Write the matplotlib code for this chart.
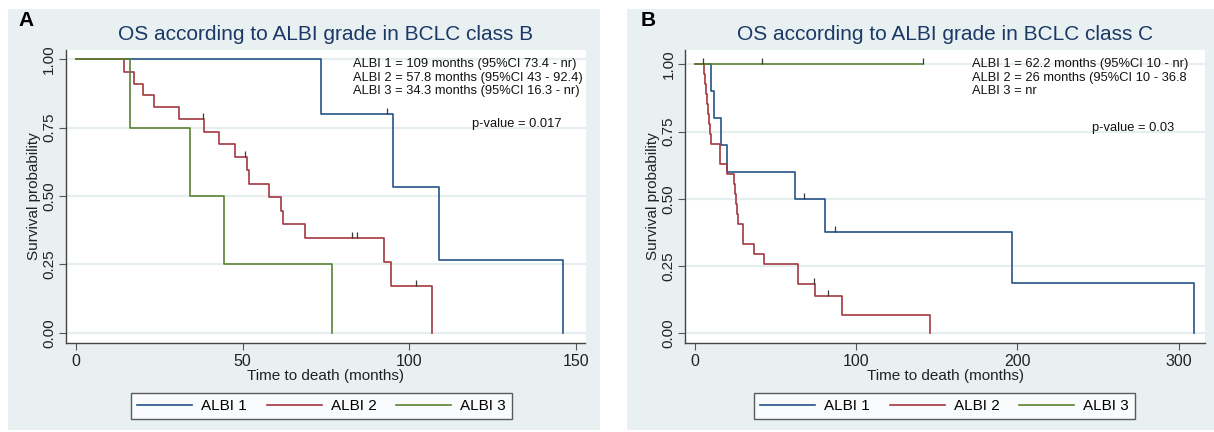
import numpy as np
import matplotlib
matplotlib.use("Agg")
import matplotlib.pyplot as plt
from matplotlib.patches import Rectangle

plt.rcParams['font.family'] = ['Liberation Sans', 'DejaVu Sans']

# ---- panel A : BCLC class B ----
a_t1 = [0, 73.4, 95.2, 109.0, 146.2]
a_s1 = [1, 0.800, 0.533, 0.267, 0]
a_c1 = [93.2]
a_t2 = [0, 14.5, 17.5, 20.3, 23.6, 30.9, 38.4, 43.0, 47.9, 51.4, 51.9, 57.9,
        61.4, 62.0, 68.6, 92.3, 94.5, 106.7]
a_s2 = [1, 0.954, 0.911, 0.869, 0.825, 0.781, 0.736, 0.690, 0.643, 0.595, 0.544,
        0.496, 0.445, 0.397, 0.346, 0.259, 0.172, 0]
a_c2 = [38.1, 50.6, 82.8, 84.3, 102.1]
a_t3 = [0, 16.3, 34.3, 44.6, 76.9]
a_s3 = [1, 0.75, 0.50, 0.25, 0]
a_c3 = []

# ---- panel B : BCLC class C ----
b_t1 = [0, 10.0, 11.5, 16.2, 19.8, 62.2, 80.4, 196.5, 309.7]
b_s1 = [1, 0.9, 0.8, 0.7, 0.6, 0.5, 0.375, 0.1875, 0]
b_c1 = [67.8, 86.6]
b_t2 = [0, 5.5, 6.0, 6.6, 7.2, 7.8, 8.4, 9.1, 9.8, 15.7, 19.8, 24.3, 24.9, 25.5,
        26.1, 26.9, 30.0, 36.4, 43.0, 63.8, 74.5, 91.3, 145.5]
b_s2 = [1, 0.963, 0.926, 0.889, 0.852, 0.815, 0.778, 0.741, 0.704, 0.630, 0.593,
        0.556, 0.519, 0.481, 0.444, 0.407, 0.333, 0.296, 0.259, 0.185, 0.139,
        0.069, 0]
b_c2 = [73.6, 82.6]
b_t3 = [0, 141.7]
b_s3 = [1, 1]
b_c3 = [5.0, 41.7, 141.7]

groups = ['ALBI 1', 'ALBI 2', 'ALBI 3']
colors = ['#245487', '#a33840', '#5c8234']

panels = [
    dict(letter='A', title='OS according to ALBI grade in BCLC class B',
         curves=[(a_t1, a_s1, a_c1), (a_t2, a_s2, a_c2), (a_t3, a_s3, a_c3)],
         xticks=[0, 50, 100, 150], xlim=(-2.9, 152.8), ylim=(-0.036, 1.034),
         notes=['ALBI 1 = 109 months (95%CI 73.4 - nr)',
                'ALBI 2 = 57.8 months (95%CI 43 - 92.4)',
                'ALBI 3 = 34.3 months (95%CI 16.3 - nr)'],
         pval='p-value = 0.017', py=0.747),
    dict(letter='B', title='OS according to ALBI grade in BCLC class C',
         curves=[(b_t1, b_s1, b_c1), (b_t2, b_s2, b_c2), (b_t3, b_s3, b_c3)],
         xticks=[0, 100, 200, 300], xlim=(-6.0, 316.3), ylim=(-0.035, 1.053),
         notes=['ALBI 1 = 62.2 months (95%CI 10 - nr)',
                'ALBI 2 = 26 months (95%CI 10 - 36.8',
                'ALBI 3 = nr'],
         pval='p-value = 0.03', py=0.733),
]

W, H = 1214, 432
fig = plt.figure(figsize=(W / 100, H / 100), dpi=100)
fig.patch.set_facecolor('white')
bg = '#e8f0f2'

# grey panel backgrounds (pixel boxes -> figure fraction)
for x0, x1 in [(8, 600), (627, 1214)]:
    fig.patches.append(Rectangle((x0 / W, 2 / H), (x1 - x0) / W, 421 / H,
                                 transform=fig.transFigure, facecolor=bg,
                                 edgecolor='none', zorder=-10))

axes_left = [66, 685.4]
legend_cx = [321.5, 944.5]
letter_x = [25.7, 648]

for i, p in enumerate(panels):
    ax = fig.add_axes([axes_left[i] / W, (H - 342.7) / H, 519.5 / W, 292.7 / H])
    ax.set_facecolor('white')
    for y in [0, 0.25, 0.5, 0.75, 1.0]:
        ax.axhline(y, color='#e6eef0', lw=1.6, zorder=0)
    for (t, s, c), col, g in zip(p['curves'], colors, groups):
        ax.step(t, s, where='post', color=col, lw=1.2, label=g, zorder=2)
        if c:
            idx = np.searchsorted(t, c, side='right') - 1
            lev = np.array(s)[idx]
            ax.vlines(c, lev, lev + 0.022, color='#3a3a3a', lw=0.9, zorder=3)
    ax.set_xlim(*p['xlim'])
    ax.set_ylim(*p['ylim'])
    ax.set_xticks(p['xticks'])
    ax.set_yticks([0, 0.25, 0.5, 0.75, 1.0])
    ax.set_yticklabels(['0.00', '0.25', '0.50', '0.75', '1.00'],
                       rotation=90, va='center')
    ax.tick_params(labelsize=11.5, length=5, color='#555555',
                   labelcolor='#222222', pad=3)
    ax.tick_params(axis='y', labelsize=11, pad=2)
    for side in ['top', 'right']:
        ax.spines[side].set_visible(False)
    for side in ['left', 'bottom']:
        ax.spines[side].set_color('#444444')
        ax.spines[side].set_linewidth(1.0)
    ax.set_xlabel('Time to death (months)', fontsize=11, color='#222222',
                  labelpad=0)
    ax.set_ylabel('Survival probability', fontsize=11, color='#222222',
                  labelpad=1)
    ax.set_title(p['title'], fontsize=15, color='#1c3866', pad=7)
    for k, line in enumerate(p['notes']):
        ax.text(0.552, 0.952 - k * 0.0465, line, transform=ax.transAxes,
                fontsize=9.3, va='center', ha='left', color='#111111')
    ax.text(0.782, p['py'], p['pval'], transform=ax.transAxes,
            fontsize=9.3, va='center', ha='left', color='#111111')
    fig.text(letter_x[i] / W, (H - 20.5) / H, p['letter'], fontsize=15,
             fontweight='bold', ha='center', va='center')
    h, l = ax.get_legend_handles_labels()
    leg = fig.legend(h, l, loc='center', ncol=3,
                     bbox_to_anchor=(legend_cx[i] / W, (H - 406) / H),
                     fontsize=11, frameon=True, fancybox=False,
                     edgecolor='#333333', handlelength=3.6, columnspacing=1.3,
                     handletextpad=0.6, borderpad=0.4)
    leg.get_frame().set_linewidth(1.0)

fig.savefig('out.png', dpi=100, facecolor='white')
